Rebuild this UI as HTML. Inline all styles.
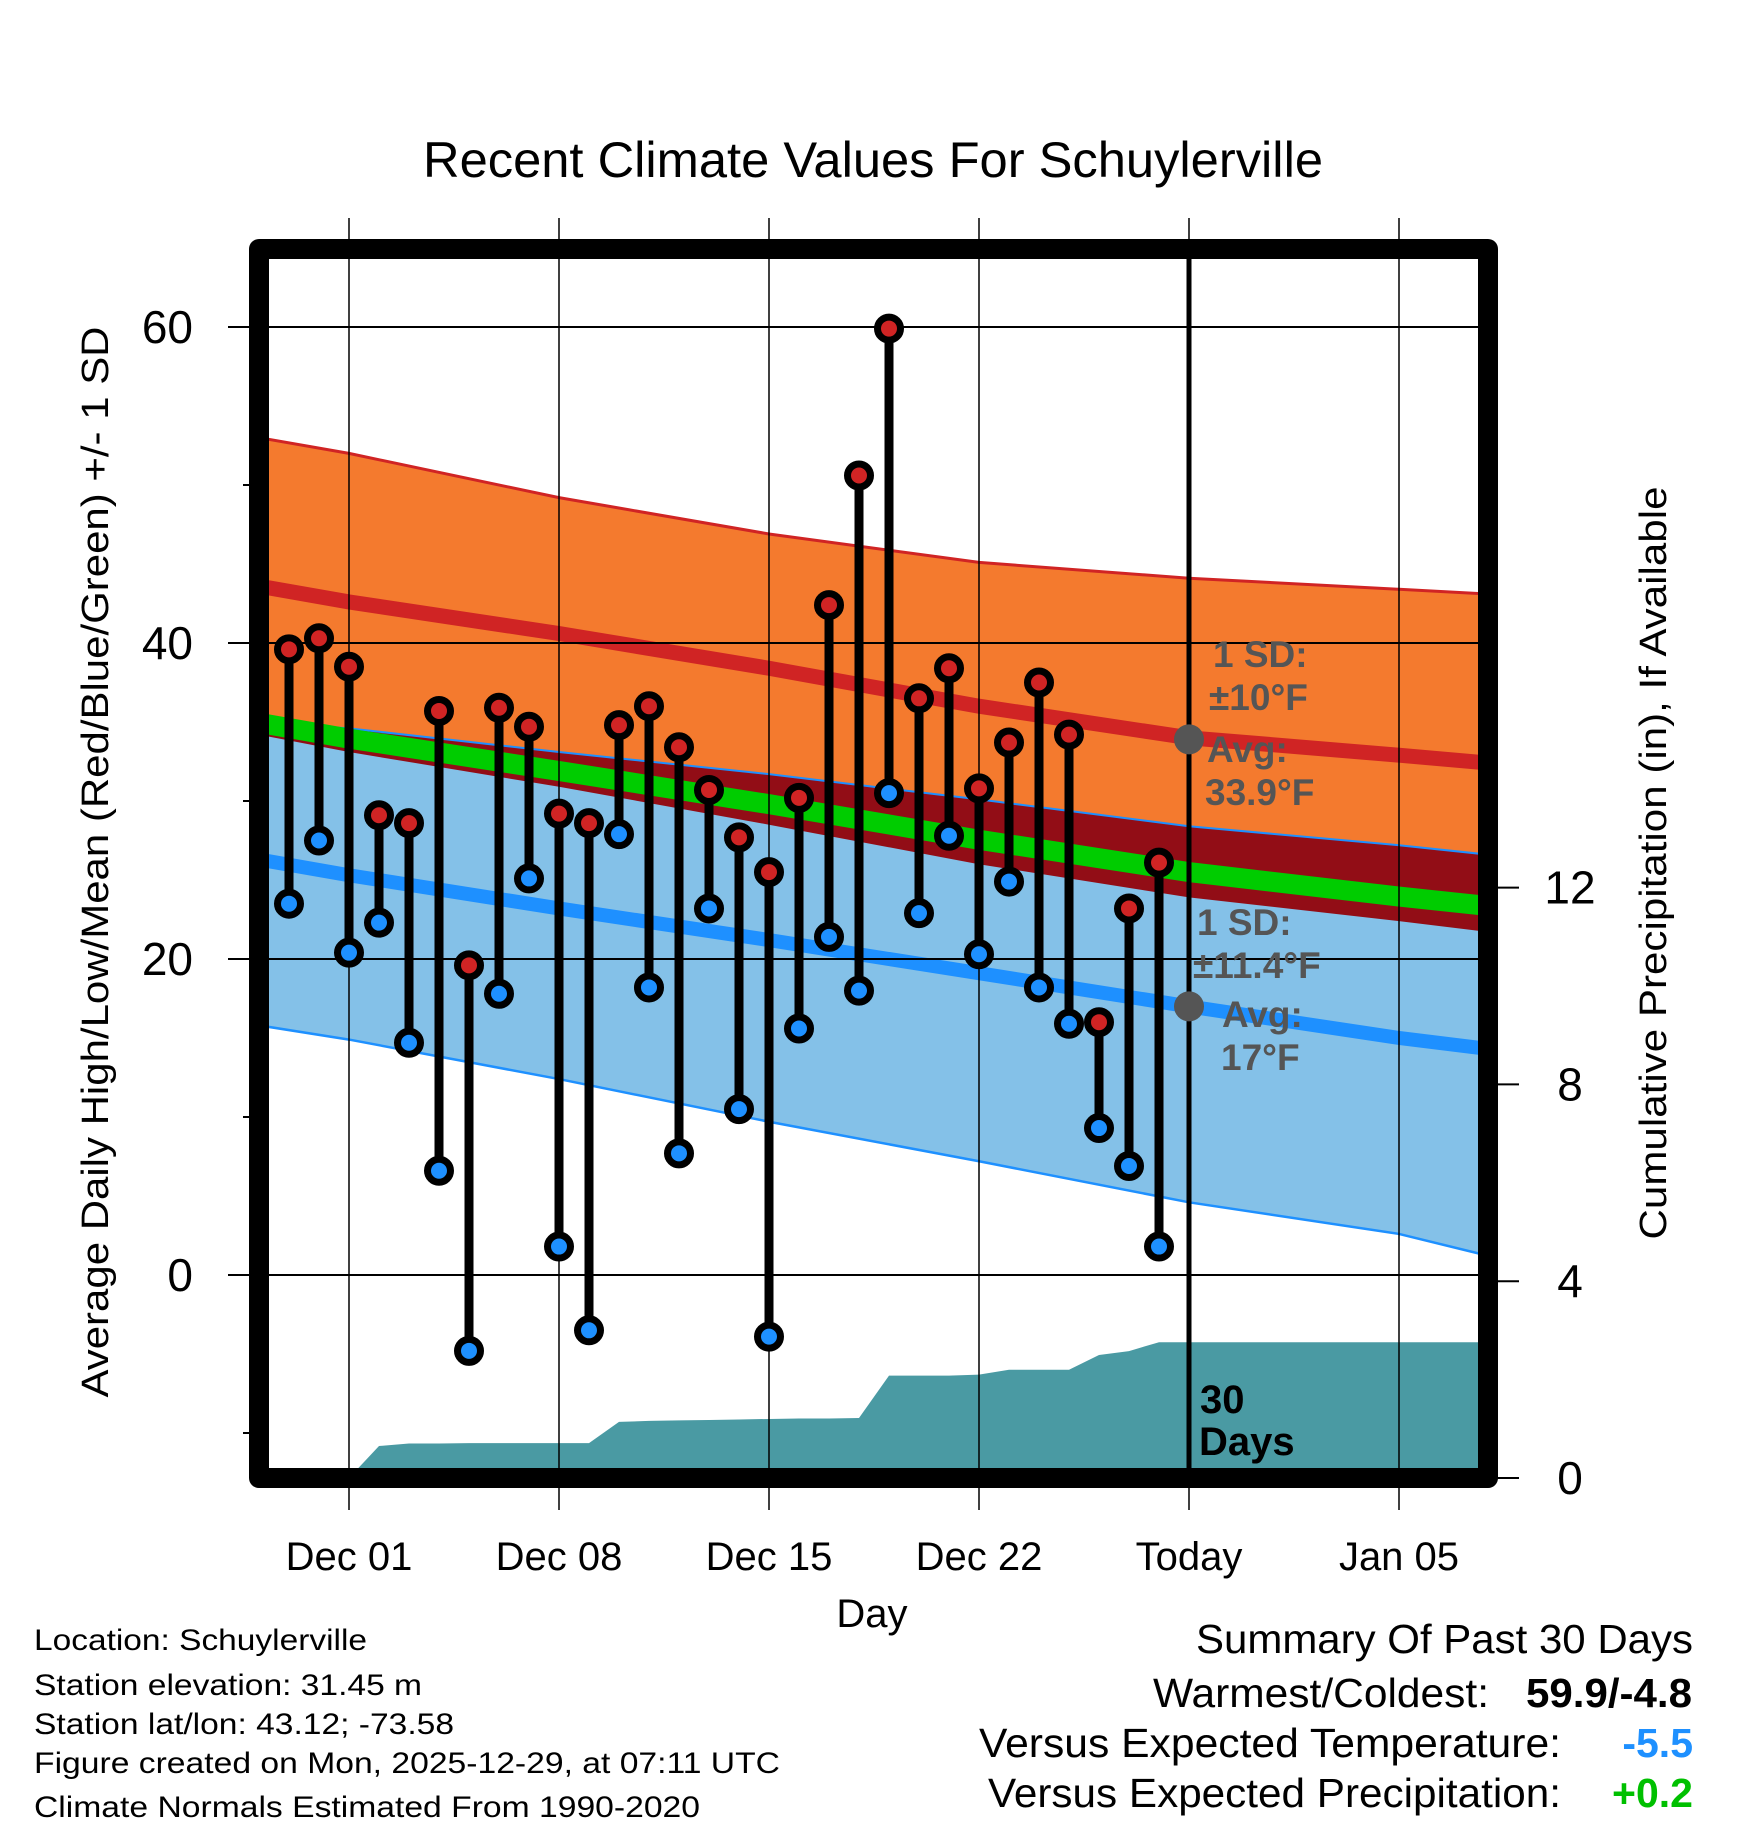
<!DOCTYPE html>
<html><head><meta charset="utf-8"><title>Recent Climate Values For Schuylerville</title>
<style>
html,body{margin:0;padding:0;background:#fff;}
svg{display:block;font-family:"Liberation Sans",Arial,sans-serif;}
</style></head>
<body>
<svg id="chart" width="1748" height="1828" viewBox="0 0 1748 1828" xmlns="http://www.w3.org/2000/svg">
<defs><clipPath id="plotclip"><rect x="269" y="259" width="1209" height="1209"/></clipPath></defs>
<rect width="1748" height="1828" fill="#fff"/>
<text x="873" y="177" font-size="50" text-anchor="middle" textLength="900" lengthAdjust="spacingAndGlyphs">Recent Climate Values For Schuylerville</text>
<g id="bands" clip-path="url(#plotclip)"></g>
<g id="precip" clip-path="url(#plotclip)"></g>
<g id="grid"></g>
<g id="marks"></g>
<g id="annot"></g>
<rect x="259" y="249" width="1229" height="1229" fill="none" stroke="#000" stroke-width="20" stroke-linejoin="round"/>
<g id="axes"></g>
<text transform="translate(108,862) rotate(-90)" font-size="38" text-anchor="middle" textLength="1071" lengthAdjust="spacingAndGlyphs">Average Daily High/Low/Mean (Red/Blue/Green) +/- 1 SD</text>
<text transform="translate(1666,863) rotate(-90)" font-size="38" text-anchor="middle" textLength="753" lengthAdjust="spacingAndGlyphs">Cumulative Precipitation (in), If Available</text>
<text x="872" y="1627" font-size="40" text-anchor="middle">Day</text>
<g font-size="30">
<text x="34" y="1650" textLength="333" lengthAdjust="spacingAndGlyphs">Location: Schuylerville</text>
<text x="34" y="1695" textLength="388" lengthAdjust="spacingAndGlyphs">Station elevation: 31.45 m</text>
<text x="34" y="1734" textLength="420" lengthAdjust="spacingAndGlyphs">Station lat/lon: 43.12; -73.58</text>
<text x="34" y="1773" textLength="746" lengthAdjust="spacingAndGlyphs">Figure created on Mon, 2025-12-29, at 07:11 UTC</text>
<text x="34" y="1817" textLength="666" lengthAdjust="spacingAndGlyphs">Climate Normals Estimated From 1990-2020</text>
</g>
<g font-size="41">
<text x="1196" y="1653" textLength="497" lengthAdjust="spacingAndGlyphs">Summary Of Past 30 Days</text>
<text x="1153" y="1707" textLength="336" lengthAdjust="spacingAndGlyphs">Warmest/Coldest:</text>
<text x="1526" y="1707" textLength="166" lengthAdjust="spacingAndGlyphs" font-weight="bold">59.9/-4.8</text>
<text x="979" y="1757" textLength="582" lengthAdjust="spacingAndGlyphs">Versus Expected Temperature:</text>
<text x="1693" y="1757" text-anchor="end" font-weight="bold" fill="#1e90ff">-5.5</text>
<text x="988" y="1807" textLength="573" lengthAdjust="spacingAndGlyphs">Versus Expected Precipitation:</text>
<text x="1693" y="1807" text-anchor="end" font-weight="bold" fill="#00c000">+0.2</text>
</g>
</svg>
<script>
// ---- data (day 0 = Dec 01) ----
const obsDays = [-2,-1,0,1,2,3,4,5,6,7,8,9,10,11,12,13,14,15,16,17,18,19,20,21,22,23,24,25,26,27];
const highs = [39.6,40.3,38.5,29.1,28.6,35.7,19.6,35.9,34.7,29.2,28.6,34.8,36.0,33.4,30.7,27.7,25.5,30.2,42.4,50.6,59.9,36.5,38.4,30.8,33.7,37.5,34.2,16.0,23.2,26.1];
const lows = [23.5,27.5,20.4,22.3,14.7,6.6,-4.8,17.8,25.1,1.8,-3.5,27.9,18.2,7.7,23.2,10.5,-3.9,15.6,21.4,18.0,30.5,22.9,27.8,20.3,24.9,18.2,15.9,9.3,6.9,1.8];
const precipCum = [0,0,0,0.65,0.70,0.70,0.71,0.71,0.71,0.71,0.71,1.14,1.16,1.17,1.18,1.19,1.20,1.21,1.21,1.22,2.08,2.08,2.08,2.10,2.20,2.20,2.20,2.50,2.58,2.76];
const normDays = [-3,0,7,14,21,28,35,38];
const highUpper = [53.0,52.0,49.2,46.9,45.1,44.1,43.4,43.1];
const highMean = [43.6,42.6,40.6,38.4,36.0,34.0,32.9,32.4];
const highLower = [34.2,33.1,30.9,28.5,26.0,23.9,22.4,21.7];
const lowUpper = [35.0,34.6,33.1,31.7,30.1,28.4,27.2,26.6];
const lowMean = [26.3,25.3,23.2,21.2,19.1,17.0,15.0,14.3];
const lowLower = [15.8,14.9,12.4,9.7,7.2,4.6,2.6,1.2];
const xTickDays = [0,7,14,21,28,35];
const xTickLabels = ["Dec 01","Dec 08","Dec 15","Dec 22","Today","Jan 05"];
const yTicks = [0,20,40,60];
const yMinorTicks = [-10,10,30,50];
const pTicks = [0,4,8,12];
const todayDay = 28;
const todayHighAvg = 33.9;
const todayLowAvg = 17;

// ---- scales ----
const NS = "http://www.w3.org/2000/svg";
function X(d){ return 349 + (d) * 30; }
function Y(t){ return 1275 - t * 15.8; }
function P(p){ return 1478 - p * 49.2; }
function mk(tag, attrs, parent){
  const e = document.createElementNS(NS, tag);
  for (const k in attrs) e.setAttribute(k, attrs[k]);
  parent.appendChild(e); return e;
}
const bands = document.getElementById('bands');
const grid = document.getElementById('grid');
const marks = document.getElementById('marks');
const axes = document.getElementById('axes');
const annot = document.getElementById('annot');
const precipG = document.getElementById('precip');

function linePts(arr){ return normDays.map((d,i)=>X(d)+','+Y(arr[i])).join(' '); }
function bandPts(up, lo){
  const a = normDays.map((d,i)=>X(d)+','+Y(up[i]));
  const b = normDays.map((d,i)=>X(d)+','+Y(lo[i])).reverse();
  return a.concat(b).join(' ');
}
let e;
e = mk('polygon',{points:bandPts(highUpper,highLower),fill:'#f47a2e'},bands);


e = mk('polygon',{points:bandPts(lowUpper,lowLower),fill:'#84c1e8'},bands);


const ovTop = lowUpper.map((v,i)=>Math.min(v,highUpper[i]));
const ovBot = highLower.map((v,i)=>Math.max(v,lowLower[i]));
e = mk('polygon',{points:bandPts(ovTop,ovBot),fill:'#920d16'},bands);


e = mk('polyline',{points:linePts(highUpper),fill:'none',stroke:'#d02424','stroke-width':3},bands);


e = mk('polyline',{points:linePts(lowUpper),fill:'none',stroke:'#1e90ff','stroke-width':2},bands);


e = mk('polyline',{points:linePts(lowLower),fill:'none',stroke:'#1e90ff','stroke-width':2.5},bands);


e = mk('polyline',{points:linePts(highMean),fill:'none',stroke:'#d02424','stroke-width':15},bands);


e = mk('polyline',{points:linePts(lowMean),fill:'none',stroke:'#1e90ff','stroke-width':14},bands);


const meanMean = highMean.map((v,i)=>(v+lowMean[i])/2);
e = mk('polyline',{points:linePts(meanMean),fill:'none',stroke:'#00cc00','stroke-width':20},bands);



let pp = [X(-3)+','+P(0)];
obsDays.forEach((d,i)=>pp.push(X(d)+','+P(precipCum[i])));
pp.push(X(38.5)+','+P(precipCum[precipCum.length-1]));
pp.push(X(38.5)+','+P(0));
e = mk('polygon',{points:pp.join(' '),fill:'#4a9aa3'},precipG);



yTicks.forEach(t=>{
  e = mk('line',{x1:228,x2:1478,y1:Y(t),y2:Y(t),stroke:'#000','stroke-width':2},grid);
  
  
  e = mk('text',{x:193,y:Y(t)+16,'font-size':46,'text-anchor':'end'},axes);
  e.textContent = String(t);
  
  
});
yMinorTicks.forEach(t=>{
  e = mk('line',{x1:243,x2:259,y1:Y(t),y2:Y(t),stroke:'#000','stroke-width':2},axes);
  
  
});
xTickDays.forEach((d,i)=>{
  e = mk('line',{x1:X(d),x2:X(d),y1:218,y2:1510,stroke:'#000','stroke-width':1.5},grid);
  
  
  e = mk('text',{x:X(d),y:1570,'font-size':40,'text-anchor':'middle'},axes);
  e.textContent = xTickLabels[i];
  
  
});
pTicks.forEach(p=>{
  e = mk('line',{x1:1488,x2:1519,y1:P(p),y2:P(p),stroke:'#000','stroke-width':2},axes);
  
  
  e = mk('text',{x:1570,y:P(p)+16,'font-size':46,'text-anchor':'middle'},axes);
  e.textContent = String(p);
  
  
});
e = mk('line',{x1:X(todayDay),x2:X(todayDay),y1:259,y2:1468,stroke:'#000','stroke-width':5},grid);



obsDays.forEach((d,i)=>{
  const g = mk('g',{},marks);
  
  
  e = mk('line',{x1:X(d),x2:X(d),y1:Y(highs[i]),y2:Y(lows[i]),stroke:'#000','stroke-width':9},g);
  
  
  e = mk('circle',{cx:X(d),cy:Y(highs[i]),r:11.5,fill:'#d02424',stroke:'#000','stroke-width':7},g);
  
  
  e = mk('circle',{cx:X(d),cy:Y(lows[i]),r:11.5,fill:'#1e90ff',stroke:'#000','stroke-width':7},g);
  
  
});

e = mk('circle',{cx:X(todayDay),cy:Y(todayHighAvg),r:15,fill:'#555'},annot);


e = mk('circle',{cx:X(todayDay),cy:Y(todayLowAvg),r:15,fill:'#555'},annot);


const labels = [
  [1213,667,'1 SD:'],[1209,710,'±10°F'],[1207,762,'Avg:'],[1205,805,'33.9°F'],
  [1197,935,'1 SD:'],[1193,978,'±11.4°F'],[1222,1027,'Avg:'],[1221,1070,'17°F']
];
labels.forEach(l=>{
  e = mk('text',{x:l[0],y:l[1],'font-size':37,'font-weight':'bold',fill:'#555'},annot);
  e.textContent = l[2];
  
  
});
e = mk('text',{x:1200,y:1413,'font-size':40,'font-weight':'bold',fill:'#000'},annot);
e.textContent = '30';


e = mk('text',{x:1199,y:1455,'font-size':40,'font-weight':'bold',fill:'#000'},annot);
e.textContent = 'Days';


</script>
</body></html>
